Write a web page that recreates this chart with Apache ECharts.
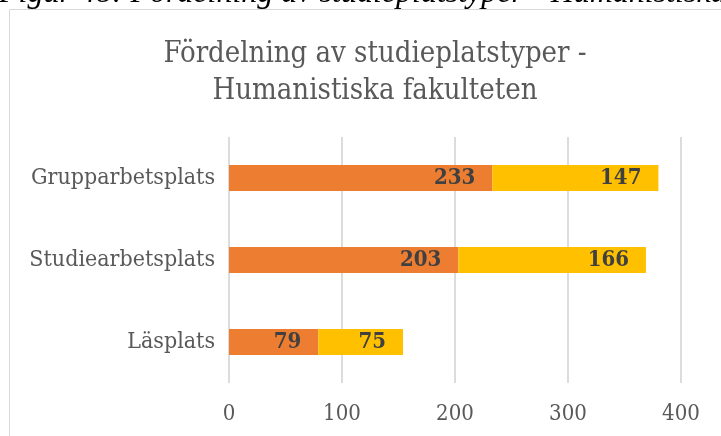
<!DOCTYPE html>
<html>
<head>
<meta charset="utf-8">
<script src="https://cdn.jsdelivr.net/npm/echarts@6/dist/echarts.min.js"></script>
<style>
  html, body { margin: 0; padding: 0; background: #fff; }
  #chart { width: 721px; height: 436px; }
</style>
</head>
<body>
<div id="chart"></div>
<script>
// kategorier uppifrån och ned
const categories = ['Grupparbetsplats', 'Studiearbetsplats', 'Läsplats']
const series1 = [233, 203, 79]
const series2 = [147, 166, 75]
const xTicks = [0, 100, 200, 300, 400]

const chart = echarts.init(document.getElementById('chart'))

const labelFont = 'DejaVu Serif Condensed'

const barLabel = {
  show: true,
  position: 'insideRight',
  distance: 17,
  fontFamily: labelFont,
  fontWeight: 'bold',
  fontSize: 22,
  color: '#404040'
}

const option = {
  animation: false,
  backgroundColor: '#fff',
  title: {
    text: 'Fördelning av studieplatstyper -\nHumanistiska fakulteten',
    left: 370,
    top: 31,
    textAlign: 'center',
    textStyle: {
      fontFamily: labelFont,
      fontWeight: 'normal',
      fontSize: 29,
      lineHeight: 37,
      color: '#595959'
    }
  },
  graphic: [
    {
      type: 'rect',
      shape: {x: 9.5, y: 9.5, width: 800, height: 500},
      style: {fill: 'none', stroke: '#d9d9d9', lineWidth: 1},
      silent: true
    },
    {
      type: 'text',
      left: -1,
      top: -22,
      style: {
        text: 'Figur 48: Fördelning av studieplatstyper - Humanistiska fakulteten',
        font: 'italic 32px "Liberation Serif"',
        fill: '#000'
      },
      silent: true
    }
  ],
  grid: {
    left: 229,
    right: 40,
    top: 137,
    bottom: 53,
    containLabel: false
  },
  xAxis: {
    type: 'value',
    min: xTicks[0],
    max: xTicks[xTicks.length - 1],
    interval: 100,
    axisLine: {show: false},
    axisTick: {show: false},
    splitLine: {show: true, lineStyle: {color: '#dcdcdc', width: 2}},
    axisLabel: {
      margin: 20,
      fontFamily: labelFont,
      fontSize: 22,
      color: '#595959'
    }
  },
  yAxis: {
    type: 'category',
    data: categories,
    inverse: true,
    axisLine: {show: false},
    axisTick: {show: false},
    axisLabel: {
      margin: 14,
      fontFamily: labelFont,
      fontSize: 23,
      color: '#595959'
    }
  },
  series: [
    {
      name: 'Serie 1',
      type: 'bar',
      stack: 'total',
      barWidth: '32%',
      data: series1,
      itemStyle: {color: '#ED7D31'},
      label: barLabel
    },
    {
      name: 'Serie 2',
      type: 'bar',
      stack: 'total',
      barWidth: '32%',
      data: series2,
      itemStyle: {color: '#FFC000'},
      label: barLabel
    }
  ]
}

chart.setOption(option)
</script>
</body>
</html>
